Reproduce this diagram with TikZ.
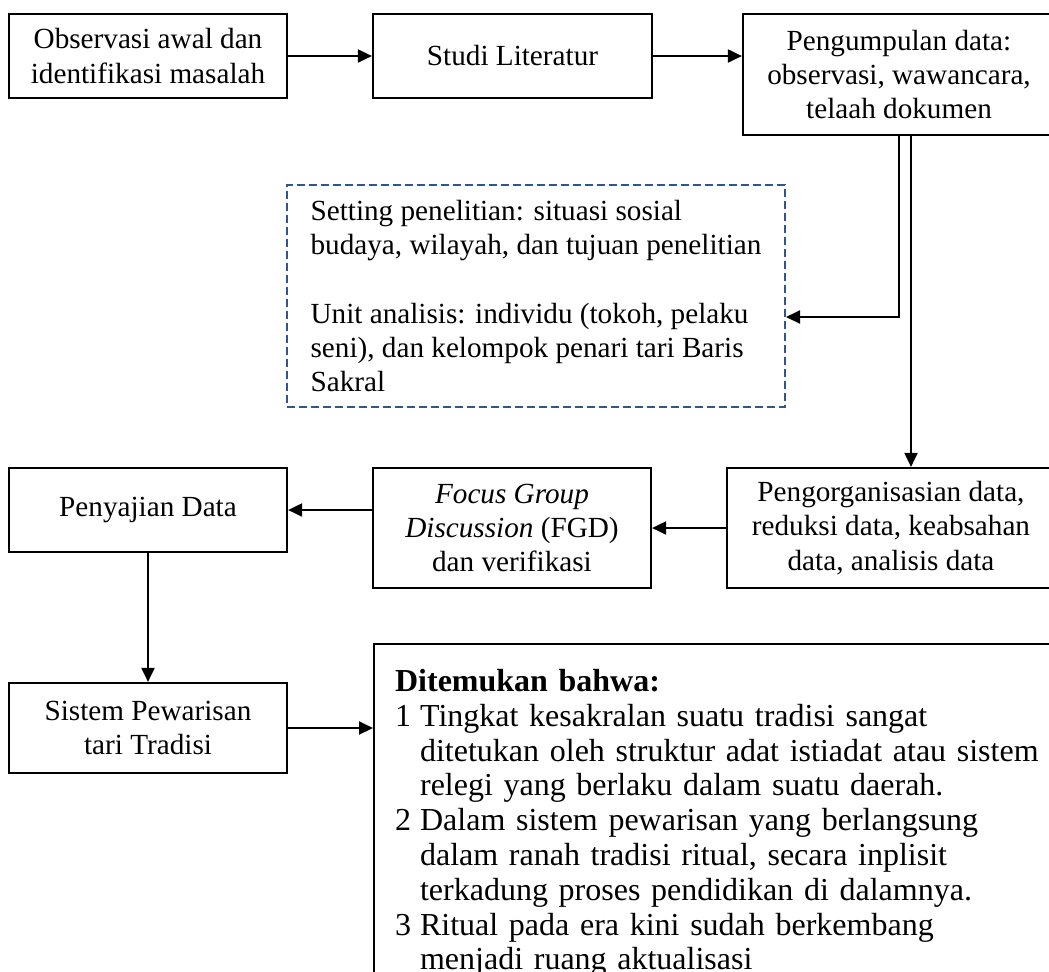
\documentclass[tikz,border=0pt]{standalone}
\usepackage{fontspec}
\setmainfont{Liberation Serif}
\usepackage{tikz}
\usetikzlibrary{positioning,arrows.meta}
\definecolor{dashblue}{HTML}{2F5597}

\begin{document}
\begin{tikzpicture}[x=0.5pt, y=-0.5pt,
    every node/.style={font=\fontsize{14.6}{17.1}\selectfont},
    stepbox/.style={draw, line width=1.1pt, align=center, inner sep=2pt},
    arr/.style={-{Triangle[length=7pt,width=6.5pt]}, line width=1pt}]
  \useasboundingbox (0,0) rectangle (1049,971);
  \clip (0,0) rectangle (1049,971);

  \node[stepbox, minimum width=139pt, minimum height=42pt] (obs) at (148,56)
       {Observasi awal dan\\identifikasi masalah};
  \node[stepbox, minimum width=139.5pt, minimum height=42pt] (studi) at (512.5,56)
       {Studi Literatur};
  \node[stepbox, minimum width=156pt, minimum height=60.5pt] (kumpul) at (899,74.5)
       {Pengumpulan data:\\observasi, wawancara,\\telaah dokumen};
  \node[draw=dashblue, dashed, dash pattern=on 4pt off 2pt, line width=1pt,
        align=left, minimum width=249pt, minimum height=111pt] (setting) at (536,296)
       {Setting penelitian: situasi sosial\\budaya, wilayah, dan tujuan penelitian\\[17.1pt]
        Unit analisis: individu (tokoh, pelaku\\seni), dan kelompok penari tari Baris\\Sakral};
  \node[stepbox, minimum width=164pt, minimum height=60pt] (olah) at (891,528)
       {Pengorganisasian data,\\reduksi data, keabsahan\\data, analisis data};
  \node[stepbox, minimum width=139pt, minimum height=60pt] (fgd) at (512,528)
       {\textit{Focus Group}\\\textit{Discussion} (FGD)\\dan verifikasi};
  \node[stepbox, minimum width=139pt, minimum height=42pt] (saji) at (148,510)
       {Penyajian Data};
  \node[stepbox, minimum width=139pt, minimum height=45pt] (waris) at (148,728)
       {Sistem Pewarisan\\tari Tradisi};
  \node[stepbox, anchor=north west, align=left, text width=322.5pt,
        inner xsep=10.5pt, inner ysep=11.5pt, font=\fontsize{16}{17.4}\selectfont]
        (temuan) at (373,643)
       {\begin{tabular}{@{}p{12.5pt}@{}l@{}}
          \multicolumn{2}{@{}l@{}}{\textbf{Ditemukan bahwa:}}\\
          1 & Tingkat kesakralan suatu tradisi sangat\\
            & ditetukan oleh struktur adat istiadat atau sistem\\
            & relegi yang berlaku dalam suatu daerah.\\
          2 & Dalam sistem pewarisan yang berlangsung\\
            & dalam ranah tradisi ritual, secara inplisit\\
            & terkadung proses pendidikan di dalamnya.\\
          3 & Ritual pada era kini sudah berkembang\\
            & menjadi ruang aktualisasi
        \end{tabular}};

  \draw[arr] (obs) -- (studi);
  \draw[arr] (studi.east) -- (studi.east -| kumpul.west);
  \draw[arr] (kumpul.south) |- ([yshift=-10.5pt]setting.east);
  \draw[arr] ([xshift=6pt]kumpul.south) -- ([xshift=6pt]kumpul.south |- olah.north);
  \draw[arr] (olah) -- (fgd);
  \draw[arr] (fgd.west |- saji.east) -- (saji.east);
  \draw[arr] (saji) -- (waris);
  \draw[arr] (waris.east) -- (waris.east -| temuan.west);
\end{tikzpicture}
\end{document}
